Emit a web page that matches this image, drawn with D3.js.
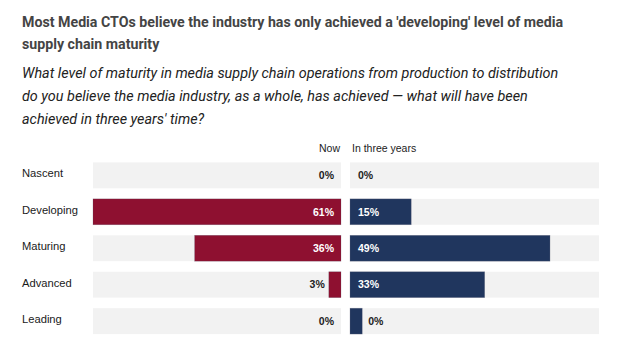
<!DOCTYPE html>
<html>
<head>
<meta charset="utf-8">
<script src="https://cdn.jsdelivr.net/npm/d3@7"></script>
<style>
html,body{margin:0;padding:0;background:#fff;}
svg{display:block;}
</style>
</head>
<body>
<svg id="chart" width="620" height="358"></svg>
<script>
const categories = ["Nascent", "Developing", "Maturing", "Advanced", "Leading"];
const seriesNames = ["Now", "In three years"];
const nowValues = [0, 61, 36, 3, 0];
const nowLabels = ["0%", "61%", "36%", "3%", "0%"];
const futureValues = [0, 15, 49, 33, 3];
const futureLabels = ["0%", "15%", "49%", "33%", "0%"];
const titleLines = ["Most Media CTOs believe the industry has only achieved a 'developing' level of media", "supply chain maturity"];
const subtitleLines = ["What level of maturity in media supply chain operations from production to distribution", "do you believe the media industry, as a whole, has achieved \u2014 what will have been", "achieved in three years' time?"];

const svg = d3.select("#chart");
const sans = "'Liberation Sans', Arial, sans-serif";
const headFont = "Roboto, 'Liberation Sans', sans-serif";

// Title
svg.append("g").selectAll("text").data(titleLines).join("text")
  .attr("x", 22).attr("y", (d, i) => 26.5 + i * 22.5)
  .attr("font-family", headFont).attr("font-weight", 700).attr("font-size", 14.2)
  .attr("fill", "#444").text(d => d);

svg.append("g").selectAll("text").data(subtitleLines).join("text")
  .attr("x", 22).attr("y", (d, i) => 78 + i * 23)
  .attr("font-family", headFont).attr("font-style", "italic").attr("font-size", 14.4)
  .attr("fill", "#222").text(d => d);

const maxV = d3.max(nowValues.concat(futureValues));
const y = d3.scaleBand().domain(categories).range([155.5, 341]).paddingInner(0.29).paddingOuter(0.19);
const xLeft = d3.scaleLinear().domain([0, maxV]).range([341, 93]);
const xRight = d3.scaleLinear().domain([0, maxV]).range([350, 599]);

const red = "#8e1030", blue = "#20365e", bg = "#f2f2f2";

// category labels
svg.append("g").selectAll("text").data(categories).join("text")
  .attr("x", 22).attr("y", d => y(d) + y.bandwidth() / 2 - 2)
  .attr("dominant-baseline", "central")
  .attr("font-family", sans).attr("font-size", 11.2).attr("fill", "#1a1a1a")
  .text(d => d);

// headers
svg.append("text").attr("x", xLeft(0) - 1).attr("y", 152).attr("text-anchor", "end")
  .attr("font-family", sans).attr("font-size", 10.5).attr("fill", "#222").text(seriesNames[0]);
svg.append("text").attr("x", xRight(0) + 2).attr("y", 152)
  .attr("font-family", sans).attr("font-size", 10.5).attr("fill", "#222").text(seriesNames[1]);

// backgrounds
const gBg = svg.append("g");
gBg.selectAll("rect.bl").data(categories).join("rect").attr("class", "bl")
  .attr("x", xLeft(maxV)).attr("width", xLeft(0) - xLeft(maxV))
  .attr("y", d => y(d)).attr("height", y.bandwidth()).attr("fill", bg);
gBg.selectAll("rect.br").data(categories).join("rect").attr("class", "br")
  .attr("x", xRight(0)).attr("width", xRight(maxV) - xRight(0))
  .attr("y", d => y(d)).attr("height", y.bandwidth()).attr("fill", bg);

const leftData = categories.map((c, i) => ({c, v: nowValues[i], l: nowLabels[i]}));
const rightData = categories.map((c, i) => ({c, v: futureValues[i], l: futureLabels[i]}));

svg.append("g").selectAll("rect").data(leftData.filter(d => d.v > 0)).join("rect")
  .attr("x", d => xLeft(d.v)).attr("width", d => xLeft(0) - xLeft(d.v))
  .attr("y", d => y(d.c)).attr("height", y.bandwidth()).attr("fill", red)
  .attr("stroke", "rgba(80,80,100,0.35)").attr("stroke-width", 0.6);
svg.append("g").selectAll("rect").data(rightData.filter(d => d.v > 0)).join("rect")
  .attr("x", xRight(0)).attr("width", d => xRight(d.v) - xRight(0))
  .attr("y", d => y(d.c)).attr("height", y.bandwidth()).attr("fill", blue)
  .attr("stroke", "rgba(120,120,140,0.45)").attr("stroke-width", 0.6);

const minInside = 26;
const labFont = {family: sans, size: 10.5};
// left labels
svg.append("g").selectAll("text").data(leftData).join("text")
  .attr("x", d => {
    const w = xLeft(0) - xLeft(d.v);
    if (d.v === 0 || w >= minInside) return xLeft(0) - 7;
    return xLeft(d.v) - 4;
  })
  .attr("y", d => y(d.c) + y.bandwidth() / 2).attr("dy", "0.36em")
  .attr("text-anchor", "end").attr("font-family", labFont.family).attr("font-weight", 700)
  .attr("font-size", labFont.size)
  .attr("fill", d => (d.v > 0 && xLeft(0) - xLeft(d.v) >= minInside) ? "#fff" : "#222")
  .text(d => d.l);
// right labels
svg.append("g").selectAll("text").data(rightData).join("text")
  .attr("x", d => {
    const w = xRight(d.v) - xRight(0);
    if (d.v === 0 || w >= minInside) return xRight(0) + 8;
    return xRight(d.v) + 6;
  })
  .attr("y", d => y(d.c) + y.bandwidth() / 2).attr("dy", "0.36em")
  .attr("font-family", labFont.family).attr("font-weight", 700)
  .attr("font-size", labFont.size)
  .attr("fill", d => (d.v > 0 && xRight(d.v) - xRight(0) >= minInside) ? "#fff" : "#222")
  .text(d => d.l);
</script>
</body>
</html>
